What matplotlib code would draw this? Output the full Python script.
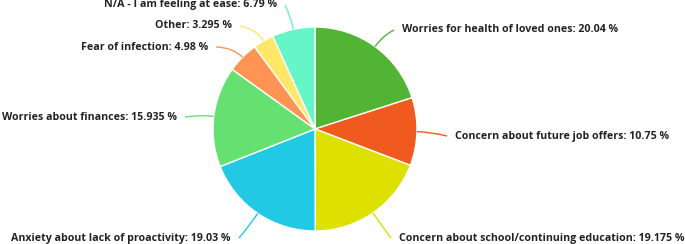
import numpy as np
import matplotlib
matplotlib.use("Agg")
import matplotlib.pyplot as plt
from matplotlib.path import Path
from matplotlib.patches import PathPatch

categories = [
    "Worries for health of loved ones",
    "Concern about future job offers",
    "Concern about school/continuing education",
    "Anxiety about lack of proactivity",
    "Worries about finances",
    "Fear of infection",
    "Other",
    "N/A - I am feeling at ease",
]
values = [20.04, 10.75, 19.175, 19.03, 15.935, 4.98, 3.295, 6.79]
value_labels = ["20.04", "10.75", "19.175", "19.03", "15.935", "4.98", "3.295", "6.79"]
colors = ["#52b435", "#f05a1e", "#dde000", "#22c9e5", "#66e070", "#ff9455", "#ffe866", "#66f5c6"]

W, H = 685, 244
fig = plt.figure(figsize=(W / 100, H / 100), dpi=100)
ax = fig.add_axes([0, 0, 1, 1])

cx, cy, R = 315, H - 129, 102
wedges, _ = ax.pie(values, colors=colors, startangle=90, counterclock=False,
                   center=(cx, cy), radius=R,
                   wedgeprops=dict(edgecolor="white", linewidth=1))
ax.set_xlim(0, W)
ax.set_ylim(0, H)
ax.set_aspect("equal")
ax.axis("off")

# label layout (pixel coords from top): (x anchor, y, ha)
label_pos = [
    (402, 30, "left"),
    (455, 136, "left"),
    (399, 238, "left"),
    (231, 238, "right"),
    (177, 117, "right"),
    (208, 47, "right"),
    (232, 26, "right"),
    (277, 5, "right"),
]

for w, val, lab, c, (lx, ly, ha) in zip(wedges, value_labels, categories, colors, label_pos):
    mid = np.deg2rad((w.theta1 + w.theta2) / 2)
    sx, sy = cx + R * np.cos(mid), cy + R * np.sin(mid)
    ctrlx, ctrly = cx + (R + 14) * np.cos(mid), cy + (R + 14) * np.sin(mid)
    ey = H - ly
    ex = lx - 8 if ha == "left" else lx + 8
    path = Path([(sx, sy), (ctrlx, ctrly), (ex, ey)],
                [Path.MOVETO, Path.CURVE3, Path.CURVE3])
    ax.add_patch(PathPatch(path, facecolor="none", edgecolor=c, linewidth=1))
    ax.text(lx, ey, f"{lab}: {val} %", ha=ha, va="center", fontsize=7.7,
            fontweight="bold", family="Open Sans", color="#222222")

fig.savefig("out.png", dpi=100)
